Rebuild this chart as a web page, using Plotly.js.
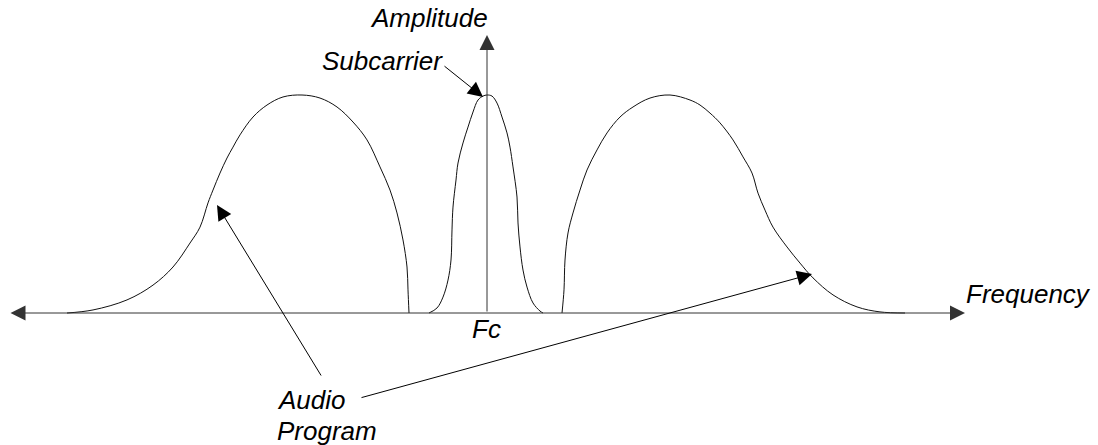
<!DOCTYPE html>
<html>
<head>
<meta charset="utf-8">
<script src="https://cdn.plot.ly/plotly-3.0.1.min.js"></script>
<style>
html,body{margin:0;padding:0;background:#fff;}
#chart{width:1098px;height:445px;}
</style>
</head>
<body>
<div id="chart"></div>
<script>
// Frequency offset from Fc (arbitrary units) and relative amplitude (peak = 100)
const audioLowerFreq = [-42.0,-39.4,-36.0,-33.4,-31.4,-29.7,-28.7,-27.9,-27.4,-26.7,-26.0,-25.4,-24.7,-23.4,-22.0,-20.4,-18.5,-16.7,-15.0,-13.4,-12.0,-10.7,-9.7,-9.0,-8.4,-8.0,-7.9,-7.8];
const audioLowerAmp  = [0,1.4,6.0,12.8,21.1,32.1,39.4,50.5,56.4,64.2,71.1,76.1,81.7,89.9,95.4,99.1,100,98.6,94.5,87.6,79.4,67.0,56.4,45.9,33.5,21.1,10.6,0];

const subcarrierFreq = [-5.8,-5.0,-4.4,-3.9,-3.6,-3.5,-3.4,-3.1,-2.9,-2.4,-1.9,-1.4,-0.9,-0.4,0,0.5,1.0,1.5,2.0,2.3,2.6,3.0,3.1,3.3,3.6,4.0,4.6,5.3,5.6];
const subcarrierAmp  = [0,2.3,7.3,15.1,24.3,38.1,48.6,61.0,68.8,78.0,85.3,92.2,97.7,99.5,100,99.5,96.3,89.9,82.6,76.1,67.0,53.2,41.3,30.3,19.7,11.9,4.6,0.9,0];

const audioUpperFreq = [7.5,7.7,7.8,8.1,8.6,9.3,10.0,11.0,12.0,13.3,14.6,16.3,18.3,20.3,21.3,22.3,23.3,24.6,25.6,26.5,27.1,27.8,28.6,30.0,31.3,32.6,34.6,37.0,39.3,41.8];
const audioUpperAmp  = [0,10.6,24.3,36.7,45.9,56.4,65.6,74.8,82.6,89.9,94.5,98.6,100,97.7,95.4,91.7,87.2,79.4,71.6,64.2,55.0,47.2,39.4,30.3,22.9,16.1,8.3,2.8,0.5,0];

const labels = {
  amplitude: 'Amplitude', frequency: 'Frequency', carrier: 'Fc',
  subcarrier: 'Subcarrier', audio1: 'Audio', audio2: 'Program'
};

// pixel -> data helpers (layout only)
const W = 1098, H = 445;
const fx = px => (px - 487) / 10;
const fy = py => (313 - py) / 2.18;

const mk = (x, y) => ({
  x, y, type: 'scatter', mode: 'lines',
  line: {shape: 'spline', smoothing: 1, color: '#111', width: 1},
  hoverinfo: 'skip'
});

const data = [
  mk(audioLowerFreq, audioLowerAmp),
  mk(subcarrierFreq, subcarrierAmp),
  mk(audioUpperFreq, audioUpperAmp)
];

const font = {family: '"Liberation Sans", Arial, sans-serif', size: 26, color: '#000'};
const txt = (t, px, py, xa) => ({
  text: '<i>' + t + '</i>', x: fx(px), y: fy(py), xref: 'x', yref: 'y',
  showarrow: false, xanchor: xa || 'center', yanchor: 'middle', font: font
});
const arr = (tx, ty, hx, hy, color, extra) => Object.assign({
  text: '', x: fx(hx), y: fy(hy), ax: fx(tx), ay: fy(ty),
  xref: 'x', yref: 'y', axref: 'x', ayref: 'y',
  showarrow: true, arrowhead: 2, arrowsize: 3, arrowwidth: 1, arrowcolor: color
}, extra || {});

const annotations = [
  // axes
  arr(9, 313, 965, 313, '#333', {arrowside: 'end+start', startarrowhead: 2, startarrowsize: 3}),
  arr(487, 313, 487, 35, '#333'),
  // pointers
  arr(443, 65, 483, 97, '#000'),
  arr(322, 377, 217, 205, '#000'),
  arr(360, 398, 812, 274, '#000'),
  // labels
  txt(labels.amplitude, 428.5, 18),
  txt(labels.subcarrier, 382, 61),
  txt(labels.frequency, 1028, 294),
  txt(labels.carrier, 486, 329),
  txt(labels.audio1, 275, 400, 'left'),
  txt(labels.audio2, 275, 431, 'left')
];

const layout = {
  width: W, height: H,
  margin: {l: 0, r: 0, t: 0, b: 0, pad: 0},
  paper_bgcolor: '#fff', plot_bgcolor: '#fff',
  showlegend: false,
  xaxis: {range: [fx(0), fx(W)], visible: false, fixedrange: true},
  yaxis: {range: [fy(H), fy(0)], visible: false, fixedrange: true},
  annotations: annotations
};

Plotly.newPlot('chart', data, layout, {displayModeBar: false, staticPlot: true});
</script>
</body>
</html>
